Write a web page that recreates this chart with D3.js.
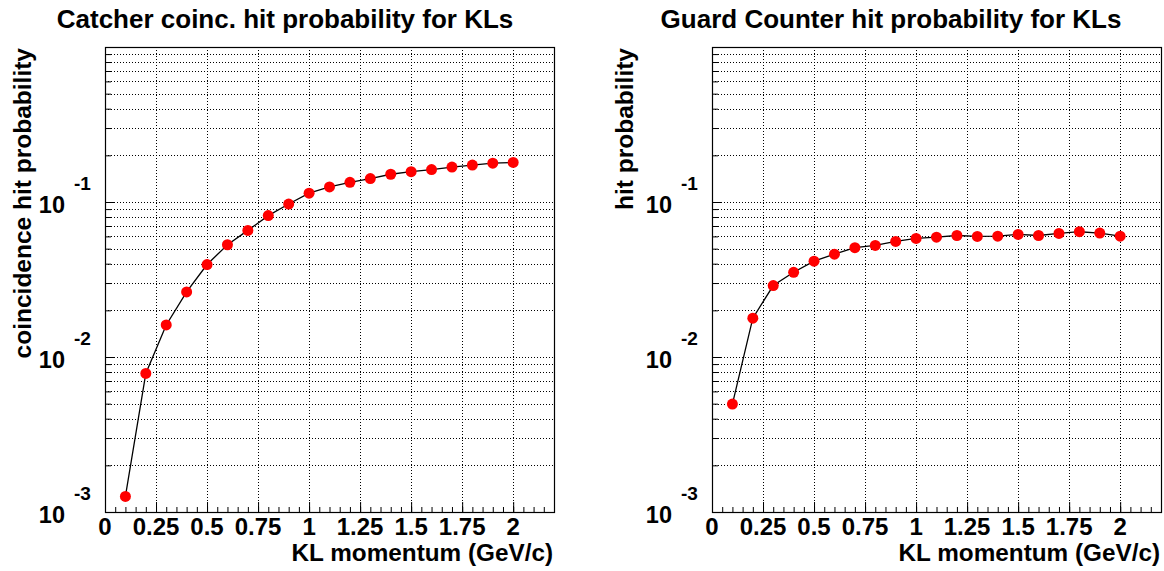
<!DOCTYPE html>
<html><head><meta charset="utf-8">
<script src="https://cdn.jsdelivr.net/npm/d3@7"></script>
<style>
body{margin:0;background:#fff;}
svg text{font-family:"Liberation Sans",Arial,Helvetica,sans-serif;font-weight:bold;fill:#000;}
</style></head><body>
<svg id="c" width="1164" height="571"></svg>
<script>
// ---- data ----
const momentum = [0.1,0.2,0.3,0.4,0.5,0.6,0.7,0.8,0.9,1.0,1.1,1.2,1.3,1.4,1.5,1.6,1.7,1.8,1.9,2.0];
const catcherProb = [0.00126,0.00784,0.0161,0.0263,0.0395,0.0530,0.0656,0.0817,0.097,0.114,0.125,0.134,0.1416,0.151,0.157,0.162,0.168,0.173,0.178,0.180];
const guardProb = [0.00497,0.0178,0.0289,0.0352,0.0415,0.0461,0.0507,0.0525,0.0557,0.0582,0.0593,0.0608,0.0600,0.0602,0.0618,0.0608,0.0627,0.0643,0.0630,0.0602];
const xTickValues = [0,0.25,0.5,0.75,1,1.25,1.5,1.75,2];
const xTickLabels = ["0","0.25","0.5","0.75","1","1.25","1.5","1.75","2"];
const xMinorValues = [0,0.05,0.1,0.15,0.2,0.25,0.3,0.35,0.4,0.45,0.5,0.55,0.6,0.65,0.7,0.75,0.8,0.85,0.9,0.95,1,1.05,1.1,1.15,1.2,1.25,1.3,1.35,1.4,1.45,1.5,1.55,1.6,1.65,1.7,1.75,1.8,1.85,1.9,1.95,2,2.05,2.1,2.15];
const yDecadeExponents = [-3,-2,-1];
const yMantissas = [1,2,3,4,5,6,7,8,9];
const titles = ["Catcher coinc. hit probability for KLs","Guard Counter hit probability for KLs"];
const yTitles = ["coincidence hit probability","hit probability"];
const xTitle = "KL momentum (GeV/c)";

const svg = d3.select("#c");
const panels = [
  {x0:105,x1:554,titleX:285,data:catcherProb,title:titles[0],ytitle:yTitles[0],ytitleX:31},
  {x0:712,x1:1161,titleX:891,data:guardProb,title:titles[1],ytitle:yTitles[1],ytitleX:633}
];
const Y0=47, Y1=512;

const yMinor=[], yMajor=[];
yDecadeExponents.forEach(e=>{
  yMantissas.forEach(k=>{ const v=k*Math.pow(10,e); if(k===1) yMajor.push(v); else yMinor.push(v); });
});

panels.forEach(p=>{
  const g = svg.append("g");
  const x = d3.scaleLinear().domain([0,2.2]).range([p.x0,p.x1]);
  const y = d3.scaleLog().domain([1e-3,1]).range([Y1,Y0]);

  // grid
  const grid = g.append("g").attr("stroke","#000").attr("stroke-width",1).attr("stroke-dasharray","1,2").attr("shape-rendering","crispEdges");
  grid.selectAll("line.h").data(yMajor.concat(yMinor).filter(v=>v>1e-3)).join("line")
    .attr("x1",p.x0).attr("x2",p.x1).attr("y1",d=>Math.round(y(d))+0.5).attr("y2",d=>Math.round(y(d))+0.5);
  grid.selectAll("line.v").data(xTickValues.filter(v=>v>0)).join("line")
    .attr("y1",Y0).attr("y2",Y1).attr("x1",d=>Math.round(x(d))+0.5).attr("x2",d=>Math.round(x(d))+0.5);

  // axes ticks (inside)
  const xa1 = g.append("g").attr("transform",`translate(0,${Y1})`)
    .call(d3.axisBottom(x).tickValues(xMinorValues).tickSize(-5).tickFormat(""));
  const xa2 = g.append("g").attr("transform",`translate(0,${Y1})`)
    .call(d3.axisBottom(x).tickValues(xTickValues).tickSize(-10).tickFormat(""));
  const ya1 = g.append("g").attr("transform",`translate(${p.x0},0)`)
    .call(d3.axisLeft(y).tickValues(yMinor).tickSize(-6).tickFormat(""));
  const ya2 = g.append("g").attr("transform",`translate(${p.x0},0)`)
    .call(d3.axisLeft(y).tickValues(yMajor).tickSize(-10).tickFormat(""));
  [xa1,xa2,ya1,ya2].forEach(a=>{a.select(".domain").remove(); a.selectAll("line").attr("stroke","#000").attr("stroke-width",1);});

  // frame
  g.append("rect").attr("x",p.x0+0.5).attr("y",Y0+0.5).attr("width",p.x1-p.x0).attr("height",Y1-Y0)
    .attr("fill","none").attr("stroke","#000").attr("stroke-width",1.2);

  // x tick labels
  g.selectAll("text.xt").data(xTickValues).join("text")
    .attr("x",d=>x(d)).attr("y",535).attr("text-anchor","middle").attr("font-size",24)
    .text((d,i)=>xTickLabels[i]);
  // y tick labels 10^e
  yDecadeExponents.forEach(e=>{
    const yy = y(Math.pow(10,e));
    g.append("text").attr("x",p.x0-40).attr("y",yy+10.5).attr("text-anchor","end").attr("font-size",23.5).text("10");
    g.append("text").attr("x",p.x0-31).attr("y",yy-12).attr("text-anchor","start").attr("font-size",19).text(String(e));
  });

  // titles
  g.append("text").attr("x",p.titleX).attr("y",28).attr("text-anchor","middle").attr("font-size",26).text(p.title);
  g.append("text").attr("x",p.x1-1).attr("y",561).attr("text-anchor","end").attr("font-size",24.3).text(xTitle);
  g.append("text").attr("transform",`translate(${p.ytitleX},48) rotate(-90)`).attr("text-anchor","end").attr("font-size",24.5).text(p.ytitle);

  // line + markers
  const pts = momentum.map((m,i)=>[m,p.data[i]]);
  g.append("path").datum(pts).attr("fill","none").attr("stroke","#000").attr("stroke-width",1.3)
    .attr("d",d3.line().x(d=>x(d[0])).y(d=>y(d[1])));
  g.selectAll("circle").data(pts).join("circle")
    .attr("cx",d=>x(d[0])).attr("cy",d=>y(d[1])).attr("r",5.5).attr("fill","#ff0000");
});
</script></body></html>
